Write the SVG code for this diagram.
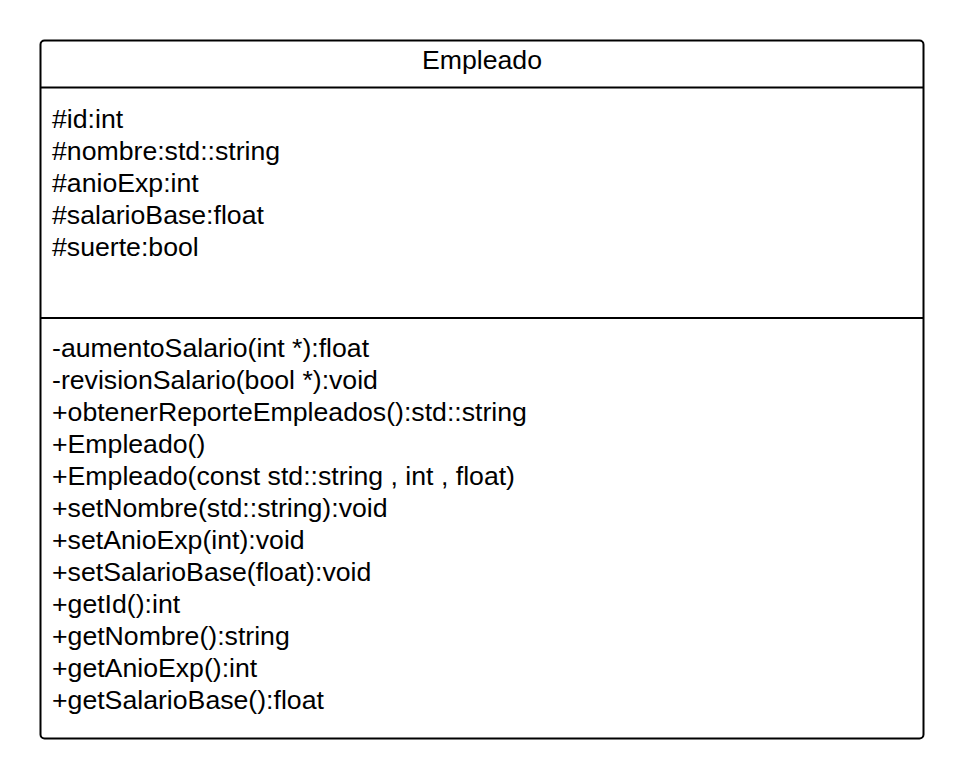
<svg xmlns="http://www.w3.org/2000/svg" width="965" height="779" viewBox="0 0 965 779">
<style>
.t{font-family:"Liberation Sans",Arial,sans-serif;font-size:26.67px;fill:#000}
.ln{stroke:#000;stroke-width:2;fill:none}
</style>
<rect width="965" height="779" fill="#fff"/>
<g id="Empleado">
<rect class="ln" x="40.5" y="40.5" width="883" height="698" rx="4" ry="4" fill="#fff"/>
<line class="ln" x1="40.5" y1="87.5" x2="923.5" y2="87.5"/>
<line class="ln" x1="40.5" y1="318" x2="923.5" y2="318"/>
<text class="t" x="482" y="69" text-anchor="middle">Empleado</text>
<text class="t" x="52" y="128">#id:int</text>
<text class="t" x="52" y="160">#nombre:std::string</text>
<text class="t" x="52" y="192">#anioExp:int</text>
<text class="t" x="52" y="224">#salarioBase:float</text>
<text class="t" x="52" y="256">#suerte:bool</text>
<text class="t" x="52" y="357">-aumentoSalario(int *):float</text>
<text class="t" x="52" y="389">-revisionSalario(bool *):void</text>
<text class="t" x="52" y="421">+obtenerReporteEmpleados():std::string</text>
<text class="t" x="52" y="453">+Empleado()</text>
<text class="t" x="52" y="485">+Empleado(const std::string , int , float)</text>
<text class="t" x="52" y="517">+setNombre(std::string):void</text>
<text class="t" x="52" y="549">+setAnioExp(int):void</text>
<text class="t" x="52" y="581">+setSalarioBase(float):void</text>
<text class="t" x="52" y="613">+getId():int</text>
<text class="t" x="52" y="645">+getNombre():string</text>
<text class="t" x="52" y="677">+getAnioExp():int</text>
<text class="t" x="52" y="709">+getSalarioBase():float</text>
</g>
<g id="connectors"></g>
</svg>
